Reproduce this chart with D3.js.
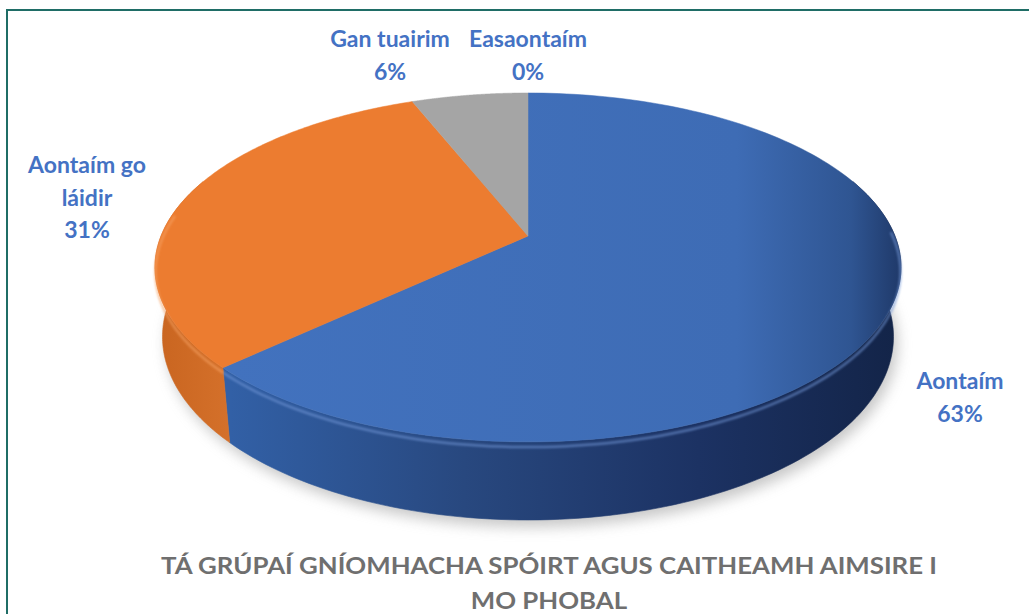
<!DOCTYPE html>
<html><head><meta charset="utf-8">
<script src="https://cdn.jsdelivr.net/npm/d3@7"></script>
<style>html,body{margin:0;padding:0;background:#fff;}svg{display:block;}</style>
</head><body>
<svg id="chart" width="1029" height="614"></svg>
<script>
// ---- data ----
const categories = ["Aontaím", "Aontaím go láidir", "Gan tuairim", "Easaontaím"];
const values = [63, 31, 6, 0];
const labelNames = [["Aontaím"], ["Aontaím go", "láidir"], ["Gan tuairim"], ["Easaontaím"]];
const titleLines = ["TÁ GRÚPAÍ GNÍOMHACHA SPÓIRT AGUS CAITHEAMH AIMSIRE I", "MO PHOBAL"];

// ---- layout / style ----
const W = 1029, H = 614;
const topColors = ["#4170bb", "#ec7c30", "#a5a5a5", "#ffc000"];
const labelAnchors = [[960, 389], [87, 173], [390, 47], [528, 47]];
const cx = 528, cy = 236, K = 1809, D = 4.93, elev = Math.asin(0.46), depthH = 0.214;

const svg = d3.select("#chart");
const defs = svg.append("defs");

function proj(a, h) {
  const X = Math.sin(a), Z = Math.cos(a);
  const up = Z * Math.sin(elev) + h * Math.cos(elev);
  const dep = D + Z * Math.cos(elev) - h * Math.sin(elev);
  return [cx + K * X / dep, cy - K * up / dep];
}
function arcPts(a0, a1, h, n) {
  const pts = [];
  for (let i = 0; i <= n; i++) pts.push(proj(a0 + (a1 - a0) * i / n, h));
  return pts;
}

// gradients
function lin(id, x1, x2, stops) {
  const g = defs.append("linearGradient").attr("id", id).attr("gradientUnits", "userSpaceOnUse")
    .attr("x1", x1).attr("y1", 0).attr("x2", x2).attr("y2", 0);
  stops.forEach(s => g.append("stop").attr("offset", s[0]).attr("stop-color", s[1]));
}
lin("wall0", 230, 900, [[0, "#3260a6"], [0.35, "#28487f"], [0.7, "#1c3263"], [1, "#132448"]]);
lin("wall1", 150, 240, [[0, "#c8641f"], [1, "#d6722c"]]);
lin("top0", 230, 905, [[0, "#4272be"], [0.75, "#3e6cb5"], [0.92, "#2f5592"], [1, "#1e3766"]]);
const wallFill = ["url(#wall0)", "url(#wall1)", "#8a8a8a", "#cc9900"];
const topFill = ["url(#top0)", topColors[1], topColors[2], topColors[3]];

const blur = defs.append("filter").attr("id", "shadow").attr("x", "-20%").attr("y", "-20%").attr("width", "140%").attr("height", "140%");
blur.append("feGaussianBlur").attr("stdDeviation", 7);
const soft = defs.append("filter").attr("id", "soft");
soft.append("feGaussianBlur").attr("stdDeviation", 1.2);

// border
svg.append("rect").attr("x", 7).attr("y", 10).attr("width", 1040).attr("height", 640)
  .attr("fill", "none").attr("stroke", "#1f6d66").attr("stroke-width", 2);

const pie = d3.pie().sort(null).value(d => d).startAngle(0).endAngle(2 * Math.PI);
const arcs = pie(values);
const line = d3.line();

// shadow
const bottomPts = arcPts(0, 2 * Math.PI, -depthH, 180).map(p => [p[0] + 4, p[1] + 7]);
svg.append("path").attr("d", line(bottomPts) + "Z").attr("fill", "#9a9a9a").attr("opacity", 0.55)
  .attr("filter", "url(#shadow)");

const g = svg.append("g");
// walls (front part only)
const vis0 = 70 * Math.PI / 180, vis1 = 290 * Math.PI / 180;
arcs.forEach((d, i) => {
  const a0 = Math.max(d.startAngle, vis0), a1 = Math.min(d.endAngle, vis1);
  if (a1 <= a0) return;
  const top = arcPts(a0, a1, 0, 120);
  const bot = arcPts(a0, a1, -depthH, 120).reverse();
  g.append("path").attr("d", line(top.concat(bot)) + "Z")
    .attr("fill", wallFill[i]).attr("stroke", wallFill[i]).attr("stroke-width", 0.6);
});
// top faces
arcs.forEach((d, i) => {
  if (d.endAngle - d.startAngle <= 0) return;
  const pts = [[cx, cy]].concat(arcPts(d.startAngle, d.endAngle, 0, 160));
  g.append("path").attr("d", line(pts) + "Z").attr("fill", topFill[i])
    .attr("stroke", topFill[i]).attr("stroke-width", 0.5);
});
// bevel highlight on front rim
const rimCol = ["#7398d8", "#f6a263"];
arcs.forEach((d, i) => {
  if (i > 1) return;
  const a0 = Math.max(d.startAngle, vis0 + 0.3), a1 = Math.min(d.endAngle, vis1 - 0.2);
  if (a1 <= a0) return;
  const pts = arcPts(a0, a1, -0.014, 100);
  g.append("path").attr("d", line(pts)).attr("fill", "none").attr("stroke", rimCol[i])
    .attr("stroke-width", 2.5).attr("opacity", 0.6).attr("filter", "url(#soft)");
});

// labels
const pct = d3.format(".0%");
const total = d3.sum(values);
arcs.forEach((d, i) => {
  const lines = labelNames[i].concat([pct(d.data / total)]);
  const t = svg.append("text").attr("text-anchor", "middle")
    .attr("font-family", "Lato, 'Open Sans', sans-serif").attr("font-weight", 700)
    .attr("font-size", 23).attr("fill", "#4472c4");
  lines.forEach((s, k) => t.append("tspan").attr("x", labelAnchors[i][0])
    .attr("y", labelAnchors[i][1] + k * 32.5).text(s));
});

// title
const tl = titleLines.map((s, k) => svg.append("text").attr("text-anchor", "middle")
  .attr("x", 549).attr("y", 574 + k * 35)
  .attr("font-family", "Lato, 'Open Sans', sans-serif").attr("font-weight", 700)
  .attr("font-size", 23).attr("fill", "#6f6f6f").text(s));
const nat = tl[0].node().getComputedTextLength();
const ratio = 776 / nat;
tl.forEach(t => {
  const w = t.node().getComputedTextLength();
  t.attr("textLength", w * ratio).attr("lengthAdjust", "spacingAndGlyphs");
});
</script>
</body></html>
